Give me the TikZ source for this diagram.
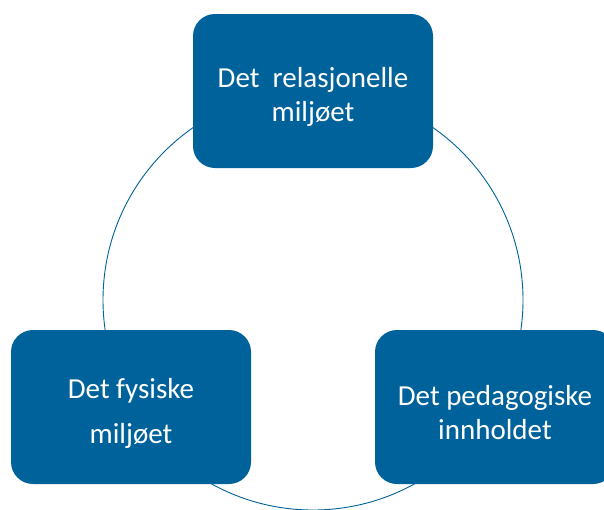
\documentclass[tikz,border=0pt]{standalone}
\usepackage{fontspec}
\setmainfont{Carlito}
\usepackage{tikz}
\definecolor{boxblue}{RGB}{0,98,155}

\begin{document}
\begin{tikzpicture}[
    x=1pt, y=1pt,
    boxnode/.style={draw=none,fill=boxblue,rounded corners=22pt,minimum width=240pt,minimum height=154pt},
    boxtext/.style={text=white,align=center,yshift=-6pt,font=\fontsize{29}{34}\selectfont},
    ringline/.style={draw=boxblue,line width=0.9pt}
]
\clip (0,0) rectangle (604,-509);

% sirkel bak boksene
\coordinate (midt) at (313,-300);
\draw[ringline] (midt) circle (210);

% boksene
\node[boxnode,label={[boxtext]center:{Det~~relasjonelle\\miljøet}}] (relasjonelle) at (313,-91) {};
\node[boxnode,label={[boxtext]center:{Det fysiske\\[11pt]miljøet}}] (fysiske) at (131,-407) {};
\node[boxnode,label={[boxtext]center:{Det pedagogiske\\innholdet}}] (pedagogiske) at (495,-407) {};
\end{tikzpicture}
\end{document}
